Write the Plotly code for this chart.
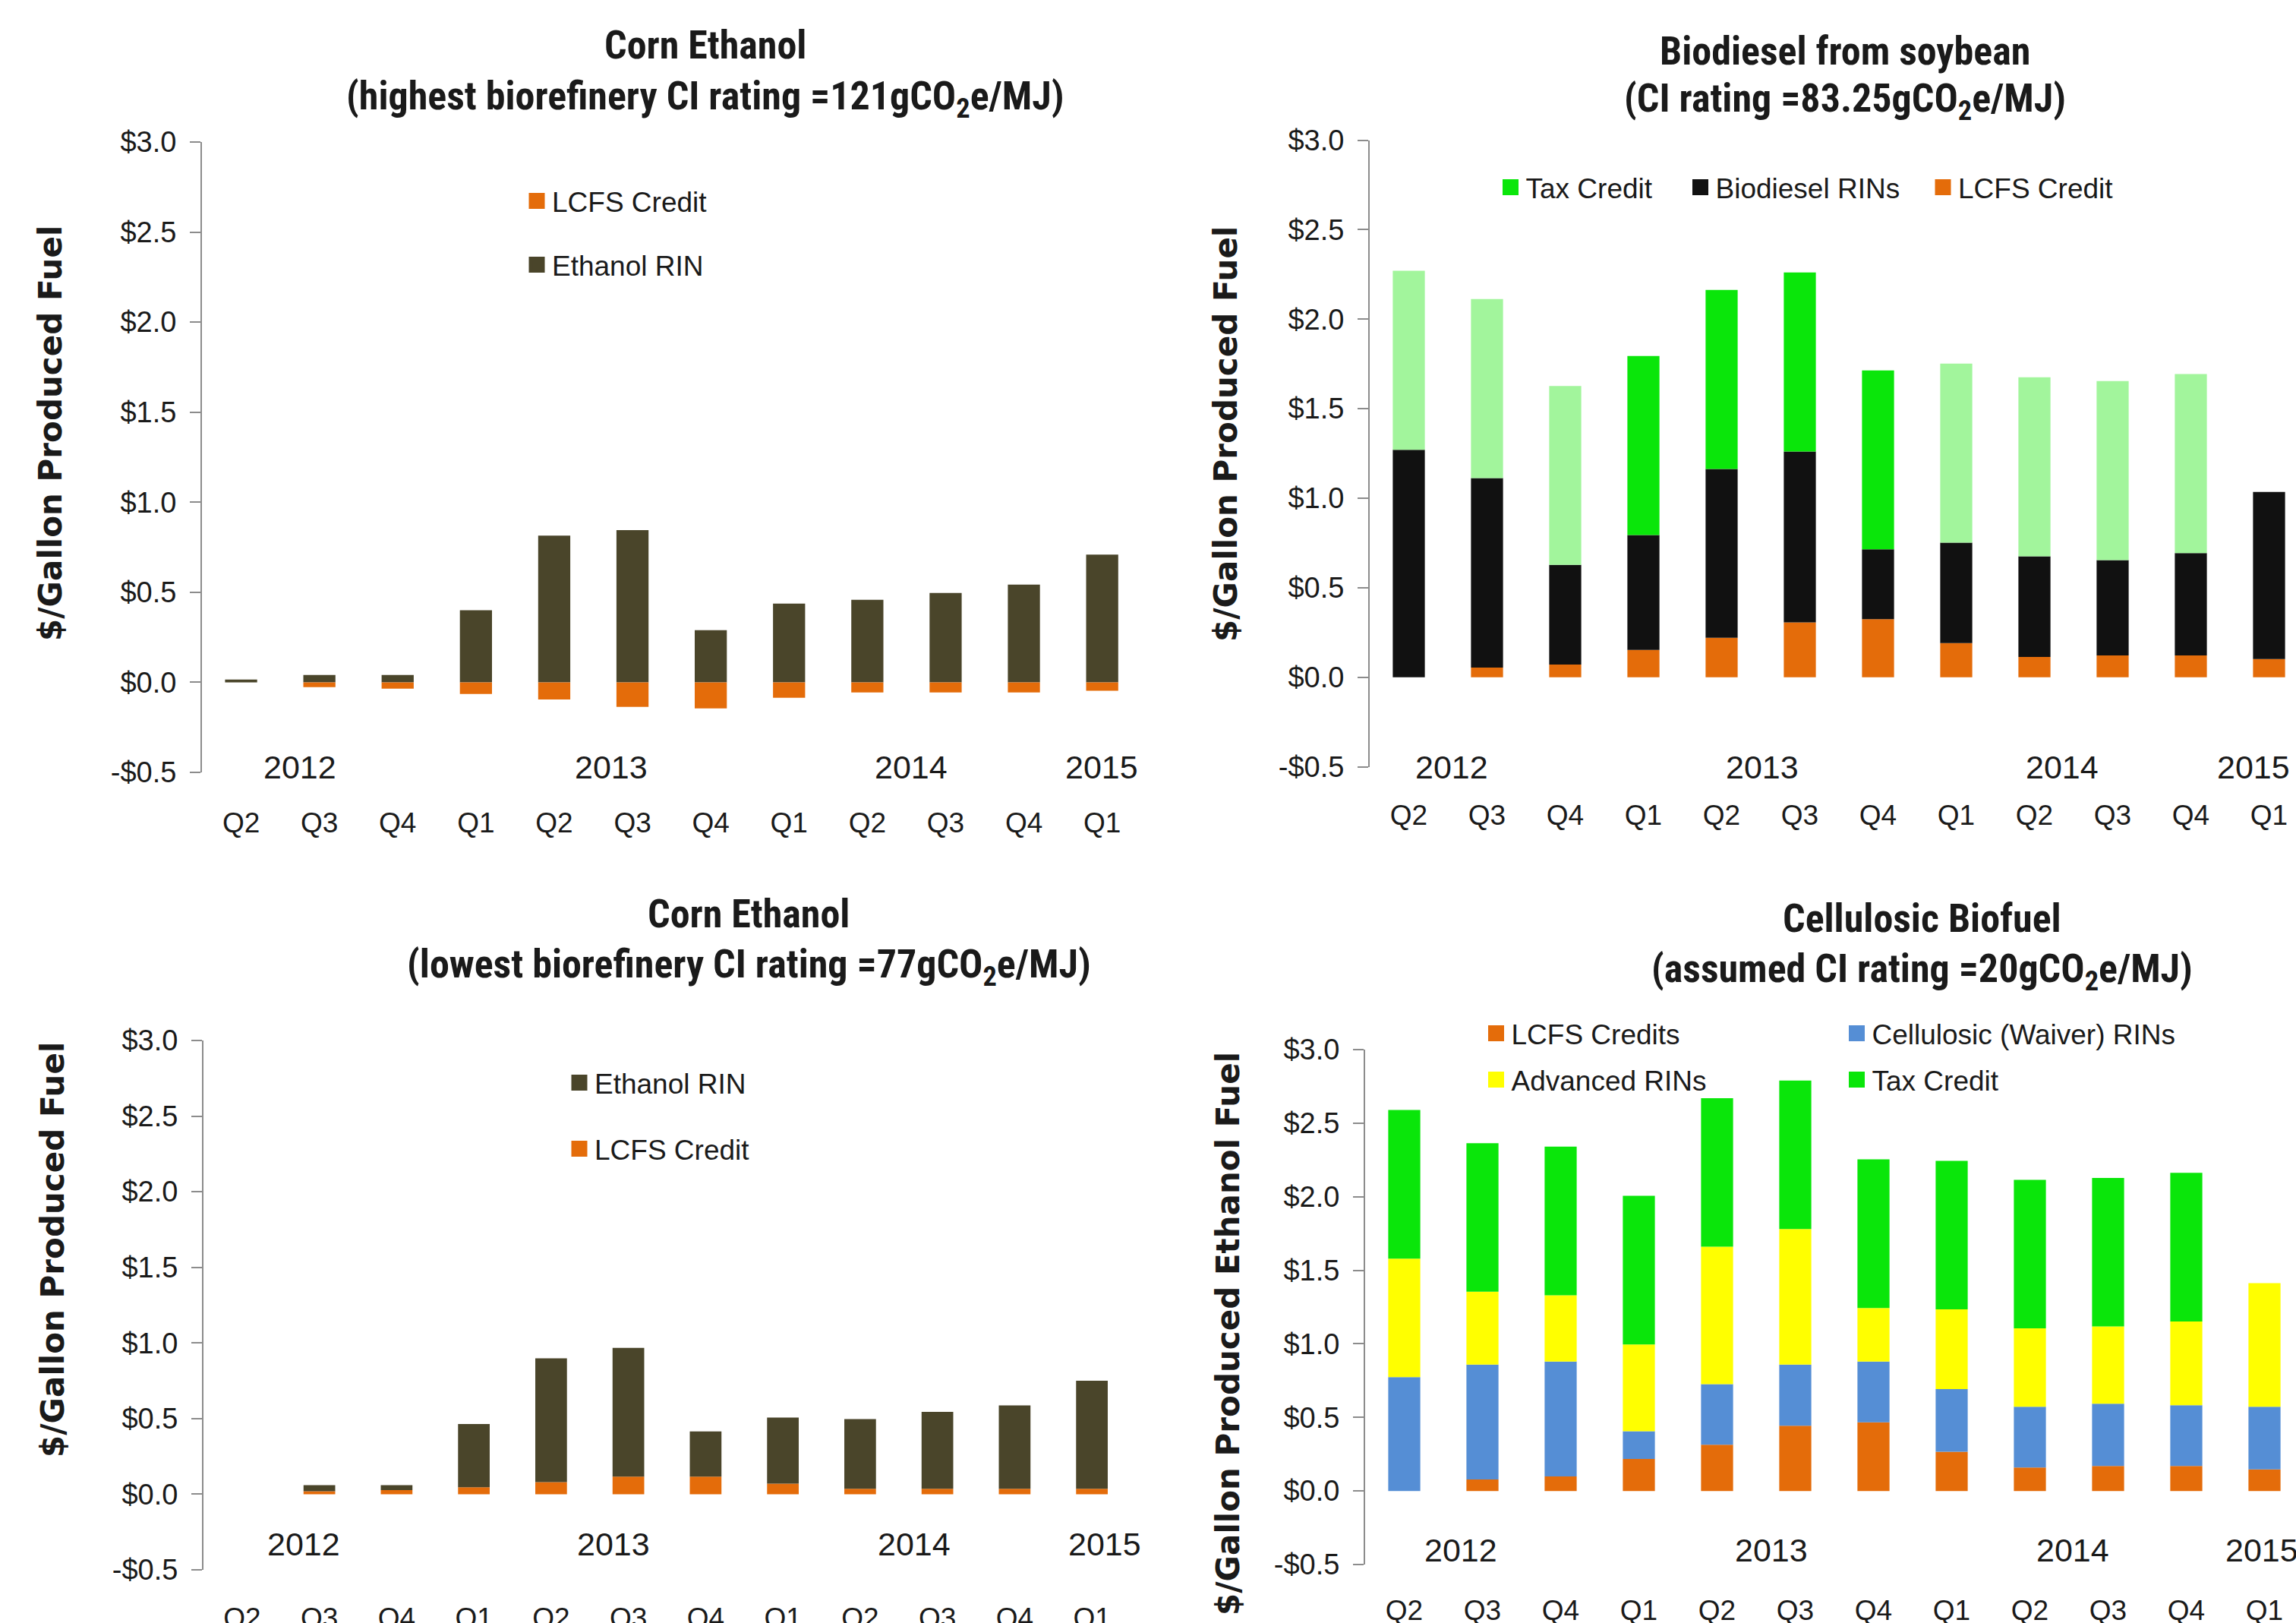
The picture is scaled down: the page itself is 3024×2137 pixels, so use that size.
import plotly.graph_objects as go

W, H = 3024, 2137

# ---------------- data ($ per gallon) ----------------
periods = ["2012 Q2", "2012 Q3", "2012 Q4", "2013 Q1", "2013 Q2", "2013 Q3",
           "2013 Q4", "2014 Q1", "2014 Q2", "2014 Q3", "2014 Q4", "2015 Q1"]
quarters = ["Q2", "Q3", "Q4", "Q1", "Q2", "Q3", "Q4", "Q1", "Q2", "Q3", "Q4", "Q1"]
years = ["2012", "2013", "2014", "2015"]

# Corn ethanol, highest-CI biorefinery (LCFS deficit is negative)
hi_ethanol_rin = [0.015, 0.041, 0.041, 0.40, 0.815, 0.845, 0.29, 0.437, 0.458, 0.496, 0.543, 0.709]
hi_lcfs_credit = [0.0, -0.027, -0.035, -0.065, -0.095, -0.136, -0.145, -0.086, -0.056, -0.056, -0.056, -0.047]

# Corn ethanol, lowest-CI biorefinery
lo_lcfs_credit = [0.0, 0.02, 0.027, 0.046, 0.08, 0.116, 0.116, 0.07, 0.036, 0.036, 0.036, 0.036]
lo_ethanol_rin = [0.0, 0.04, 0.033, 0.418, 0.819, 0.852, 0.299, 0.437, 0.461, 0.508, 0.551, 0.714]

# Soybean biodiesel
bd_lcfs_credit = [0.0, 0.054, 0.071, 0.152, 0.22, 0.306, 0.324, 0.19, 0.113, 0.122, 0.122, 0.101]
bd_rins = [1.27, 1.058, 0.556, 0.642, 0.943, 0.955, 0.39, 0.562, 0.562, 0.532, 0.571, 0.934]
bd_tax_credit = [1.0, 1.0, 1.0, 1.0, 1.0, 1.0, 1.0, 1.0, 1.0, 1.0, 1.0, 0.0]
bd_tax_credit_in_force = [False, False, False, True, True, True, True, False, False, False, False, False]

# Cellulosic biofuel
cb_lcfs_credits = [0.0, 0.078, 0.099, 0.218, 0.314, 0.443, 0.467, 0.266, 0.16, 0.17, 0.17, 0.147]
cb_waiver_rins = [0.774, 0.781, 0.781, 0.188, 0.412, 0.416, 0.413, 0.426, 0.413, 0.423, 0.413, 0.426]
cb_advanced_rins = [0.805, 0.495, 0.45, 0.59, 0.934, 0.921, 0.364, 0.542, 0.532, 0.525, 0.569, 0.839]
cb_tax_credit = [1.01, 1.01, 1.01, 1.01, 1.01, 1.01, 1.01, 1.01, 1.01, 1.01, 1.01, 0.0]

# ---------------- styling ----------------
ORANGE = "#E46C0A"
OLIVE = "#4A452A"
BLACK = "#111111"
GREEN = "#0AE60A"
PALE_GREEN = "#A2F59C"
BLUE = "#558ED5"
YELLOW = "#FFFF00"
AXIS = "#8C8C8C"
TEXT = "#1a1a1a"
FONT = "Liberation Sans, Arial, sans-serif"
TITLE_FONT = "Roboto Condensed, Liberation Sans Narrow, Arial Narrow, DejaVu Sans Condensed, sans-serif"
YTITLE_FONT = "DejaVu Sans, Verdana, sans-serif"

Y_MIN, Y_MAX = -0.5, 3.0
y_ticks = [i * 0.5 for i in range(-1, 7)]
y_ticktext = [("-$%.1f" % abs(v)) if v < 0 else ("$%.1f" % v) for v in y_ticks]

# panel frames in pixels: left, right, top ($3.0), bottom (-$0.5), category pitch
panels = [
    dict(l=266, r=1503, t=187, b=1017, pitch=103.1, qlen=34,
         title=("Corn Ethanol", "(highest biorefinery CI rating =121gCO<sub>2</sub>e/MJ)"),
         title_xy=(929, 60, 130), ytitle="$/Gallon Produced Fuel", ytitle_xy=(67, 571),
         year_x=[0.75, 4.73, 8.56, 10.99], year_y=-0.47),
    dict(l=1804, r=3024, t=184.5, b=1009.5, pitch=103.0, qlen=31,
         title=("Biodiesel from soybean", "(CI rating =83.25gCO<sub>2</sub>e/MJ)"),
         title_xy=(2430, 67, 133), ytitle="$/Gallon Produced Fuel", ytitle_xy=(1614, 572),
         year_x=[0.55, 4.52, 8.35, 10.8], year_y=-0.50),
    dict(l=268, r=1489, t=1370, b=2067, pitch=101.75, qlen=31,
         title=("Corn Ethanol", "(lowest biorefinery CI rating =77gCO<sub>2</sub>e/MJ)"),
         title_xy=(986, 1203, 1273), ytitle="$/Gallon Produced Fuel", ytitle_xy=(69, 1646),
         year_x=[0.80, 4.81, 8.70, 11.17], year_y=-0.33),
    dict(l=1798, r=3024, t=1382, b=2060, pitch=103.0, qlen=28,
         title=("Cellulosic Biofuel", "(assumed CI rating =20gCO<sub>2</sub>e/MJ)"),
         title_xy=(2531, 1209, 1279), ytitle="$/Gallon Produced Ethanol Fuel", ytitle_xy=(1617, 1756),
         year_x=[0.72, 4.69, 8.55, 10.97], year_y=-0.40),
]

# series per panel, in stacking order: (name, values, bar colour(s), legend colour, legend symbol centre px)
series = [
    [("Ethanol RIN", hi_ethanol_rin, OLIVE, OLIVE, (707, 349)),
     ("LCFS Credit", hi_lcfs_credit, ORANGE, ORANGE, (707, 265))],
    [("LCFS Credit", bd_lcfs_credit, ORANGE, ORANGE, (2559, 247)),
     ("Biodiesel RINs", bd_rins, BLACK, BLACK, (2239.5, 247)),
     ("Tax Credit", bd_tax_credit,
      [GREEN if active else PALE_GREEN for active in bd_tax_credit_in_force], GREEN, (1989.5, 247))],
    [("LCFS Credit", lo_lcfs_credit, ORANGE, ORANGE, (763, 1513)),
     ("Ethanol RIN", lo_ethanol_rin, OLIVE, OLIVE, (763, 1426))],
    [("LCFS Credits", cb_lcfs_credits, ORANGE, ORANGE, (1970.5, 1361)),
     ("Cellulosic (Waiver) RINs", cb_waiver_rins, BLUE, BLUE, (2445.5, 1361)),
     ("Advanced RINs", cb_advanced_rins, YELLOW, YELLOW, (1970.5, 1422)),
     ("Tax Credit", cb_tax_credit, GREEN, GREEN, (2445.5, 1422))],
]

fig = go.Figure()
layout = dict(
    width=W, height=H,
    margin=dict(l=0, r=0, t=0, b=0, autoexpand=False),
    paper_bgcolor="white", plot_bgcolor="white",
    barmode="relative", bargap=0.59,
    showlegend=True,
    annotations=[],
)

legend_no = 0
for i, (p, ser) in enumerate(zip(panels, series), start=1):
    xa, ya = ("x" if i == 1 else "x%d" % i), ("y" if i == 1 else "y%d" % i)
    xkey, ykey = ("xaxis" if i == 1 else "xaxis%d" % i), ("yaxis" if i == 1 else "yaxis%d" % i)
    dom_x = [p["l"] / W, p["r"] / W]
    dom_y = [1 - p["b"] / H, 1 - p["t"] / H]
    x_end = -0.5 + (p["r"] - p["l"]) / p["pitch"]

    for k, (name, vals, bar_color, leg_color, (cx, cy)) in enumerate(ser):
        group = "p%d_%d" % (i, k)
        fig.add_trace(go.Bar(
            x=periods, y=vals, name=name, marker=dict(color=bar_color, line=dict(width=0)),
            xaxis=xa, yaxis=ya, legendgroup=group, showlegend=False,
            hovertemplate="%{x}: $%{y:.2f}<extra>" + name + "</extra>",
        ))
        legend_no += 1
        lkey = "legend" if legend_no == 1 else "legend%d" % legend_no
        fig.add_trace(go.Scatter(
            x=[None], y=[None], mode="markers", name=name, legend=lkey, legendgroup=group,
            marker=dict(symbol="square", size=16, color=leg_color, line=dict(color=leg_color, width=5)),
            xaxis=xa, yaxis=ya, hoverinfo="skip",
        ))
        layout[lkey] = dict(
            x=(cx - 20) / W, xanchor="left", y=1 - cy / H, yanchor="middle",
            orientation="v", bgcolor="rgba(0,0,0,0)", borderwidth=0, itemsizing="trace",
            font=dict(family=FONT, size=37, color=TEXT),
        )

    # category axis carrying the quarter labels
    layout[xkey] = dict(
        domain=dom_x, anchor=ya, type="category",
        categoryorder="array", categoryarray=periods,
        range=[-0.5, x_end], autorange=False, automargin=False,
        tickmode="array", tickvals=periods, ticktext=quarters,
        ticks="outside", ticklen=p["qlen"], tickcolor="rgba(0,0,0,0)",
        showline=False, showgrid=False, zeroline=False, fixedrange=True,
        tickfont=dict(family=FONT, size=37, color=TEXT),
    )
    layout[ykey] = dict(
        domain=dom_y, anchor=xa, range=[Y_MIN, Y_MAX], autorange=False, automargin=False,
        tickmode="array", tickvals=y_ticks, ticktext=y_ticktext,
        ticks="outside", ticklen=14, tickwidth=2, tickcolor=AXIS,
        showline=True, linecolor=AXIS, linewidth=2,
        showgrid=False, zeroline=False, fixedrange=True, ticklabelstandoff=10,
        tickfont=dict(family=FONT, size=38, color=TEXT),
    )
    # horizontal axis line at $0 with tick marks between categories
    zero_pos = dom_y[0] + (0 - Y_MIN) / (Y_MAX - Y_MIN) * (dom_y[1] - dom_y[0])
    zkey = "xaxis%d" % (i + 4)
    layout[zkey] = dict(
        overlaying=xa, anchor="free", position=zero_pos, side="bottom",
        type="linear", range=[-0.5, x_end], autorange=False, automargin=False,
        tickmode="linear", tick0=0.5, dtick=1,
        ticks="outside", ticklen=14, tickwidth=2, tickcolor=AXIS,
        showline=True, linecolor=AXIS, linewidth=2,
        showticklabels=False, showgrid=False, zeroline=False, fixedrange=True,
    )

    # year labels
    for yr, xpos in zip(years, p["year_x"]):
        layout["annotations"].append(dict(
            x=xpos, y=p["year_y"], xref=xa, yref=ya, text=yr, showarrow=False,
            xanchor="center", yanchor="middle",
            font=dict(family=FONT, size=43, color=TEXT),
        ))
    # two-line chart title
    tx, ty1, ty2 = p["title_xy"]
    for line, ty in zip(p["title"], (ty1, ty2)):
        layout["annotations"].append(dict(
            x=tx / W, y=1 - ty / H, xref="paper", yref="paper", text=line, showarrow=False,
            xanchor="center", yanchor="middle",
            font=dict(family=TITLE_FONT, size=52, color=TEXT, weight="bold"),
        ))
    # vertical axis title
    ax_x, ax_y = p["ytitle_xy"]
    layout["annotations"].append(dict(
        x=ax_x / W, y=1 - ax_y / H, xref="paper", yref="paper", text=p["ytitle"],
        showarrow=False, textangle=-90, xanchor="center", yanchor="middle",
        font=dict(family=YTITLE_FONT, size=42, color=TEXT, weight="bold"),
    ))

fig.update_layout(**layout)
fig.write_html("out.html")
